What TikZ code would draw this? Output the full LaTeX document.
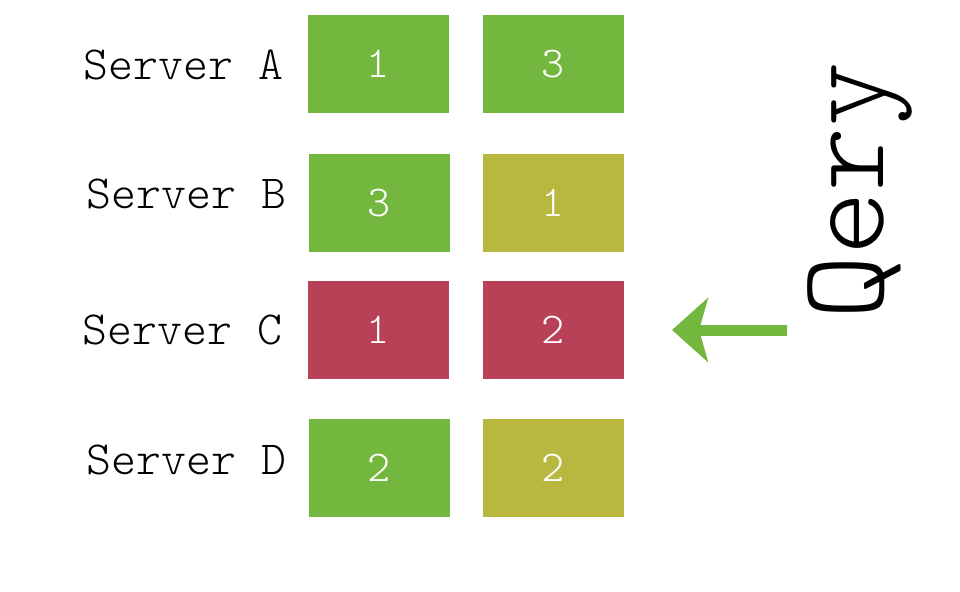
\documentclass[tikz,border=0pt]{standalone}
\usepackage{fontspec}
\setmonofont{Latin Modern Mono Light}
\usetikzlibrary{arrows.meta}
\definecolor{okgreen}{RGB}{116,183,63}
\definecolor{olive}{RGB}{184,183,64}
\definecolor{downred}{RGB}{184,64,87}
\begin{document}
\begin{tikzpicture}[x=1pt,y=-1pt]
    	\tikzstyle{label}=[inner sep=0pt, font=\ttfamily\fontsize{47.5}{47.5}\selectfont]
    	\tikzstyle{shard}=[minimum height=98pt, minimum width=141pt, inner sep=0pt, text=white, font=\ttfamily\fontsize{44}{44}\selectfont]
    	\useasboundingbox (0,0) rectangle (960,591);
    	
    	% Servers
    	\node at (183.5, 64.5) [label] (serverA) {Server A};
    	\node at (186.5, 193.5) [label] (serverB) {Server B};
    	\node at (182.5, 330) [label] (serverC) {Server C};
    	\node at (186.5, 460) [label] (serverD) {Server D};
    	
    	% Shards
    	\node at (378.5, 64) [shard, fill=okgreen] (shardA1) {1};
    	\node at (553.5, 64) [shard, fill=okgreen] (shardA2) {3};
    	\node at (379.5, 203) [shard, fill=okgreen] (shardB1) {3};
    	\node at (553.5, 203) [shard, fill=olive] (shardB2) {1};
    	\node at (378.5, 330) [shard, fill=downred] (shardC1) {1};
    	\node at (553.5, 330) [shard, fill=downred] (shardC2) {2};
    	\node at (379.5, 468) [shard, fill=okgreen] (shardD1) {2};
    	\node at (553.5, 468) [shard, fill=olive] (shardD2) {2};
    	
    	% Query
    	\node at (860, 191) [rotate=90, inner sep=0pt, font=\ttfamily\fontsize{122}{122}\selectfont] (query) {Qery};
    	\coordinate (qstart) at (787, 330);
    	\coordinate (qend) at (672, 330);
    	\draw [-{Stealth[length=36pt, width=64pt, inset=9pt]}, okgreen, line width=11pt] (qstart) -- (qend);
    \end{tikzpicture}
\end{document}
